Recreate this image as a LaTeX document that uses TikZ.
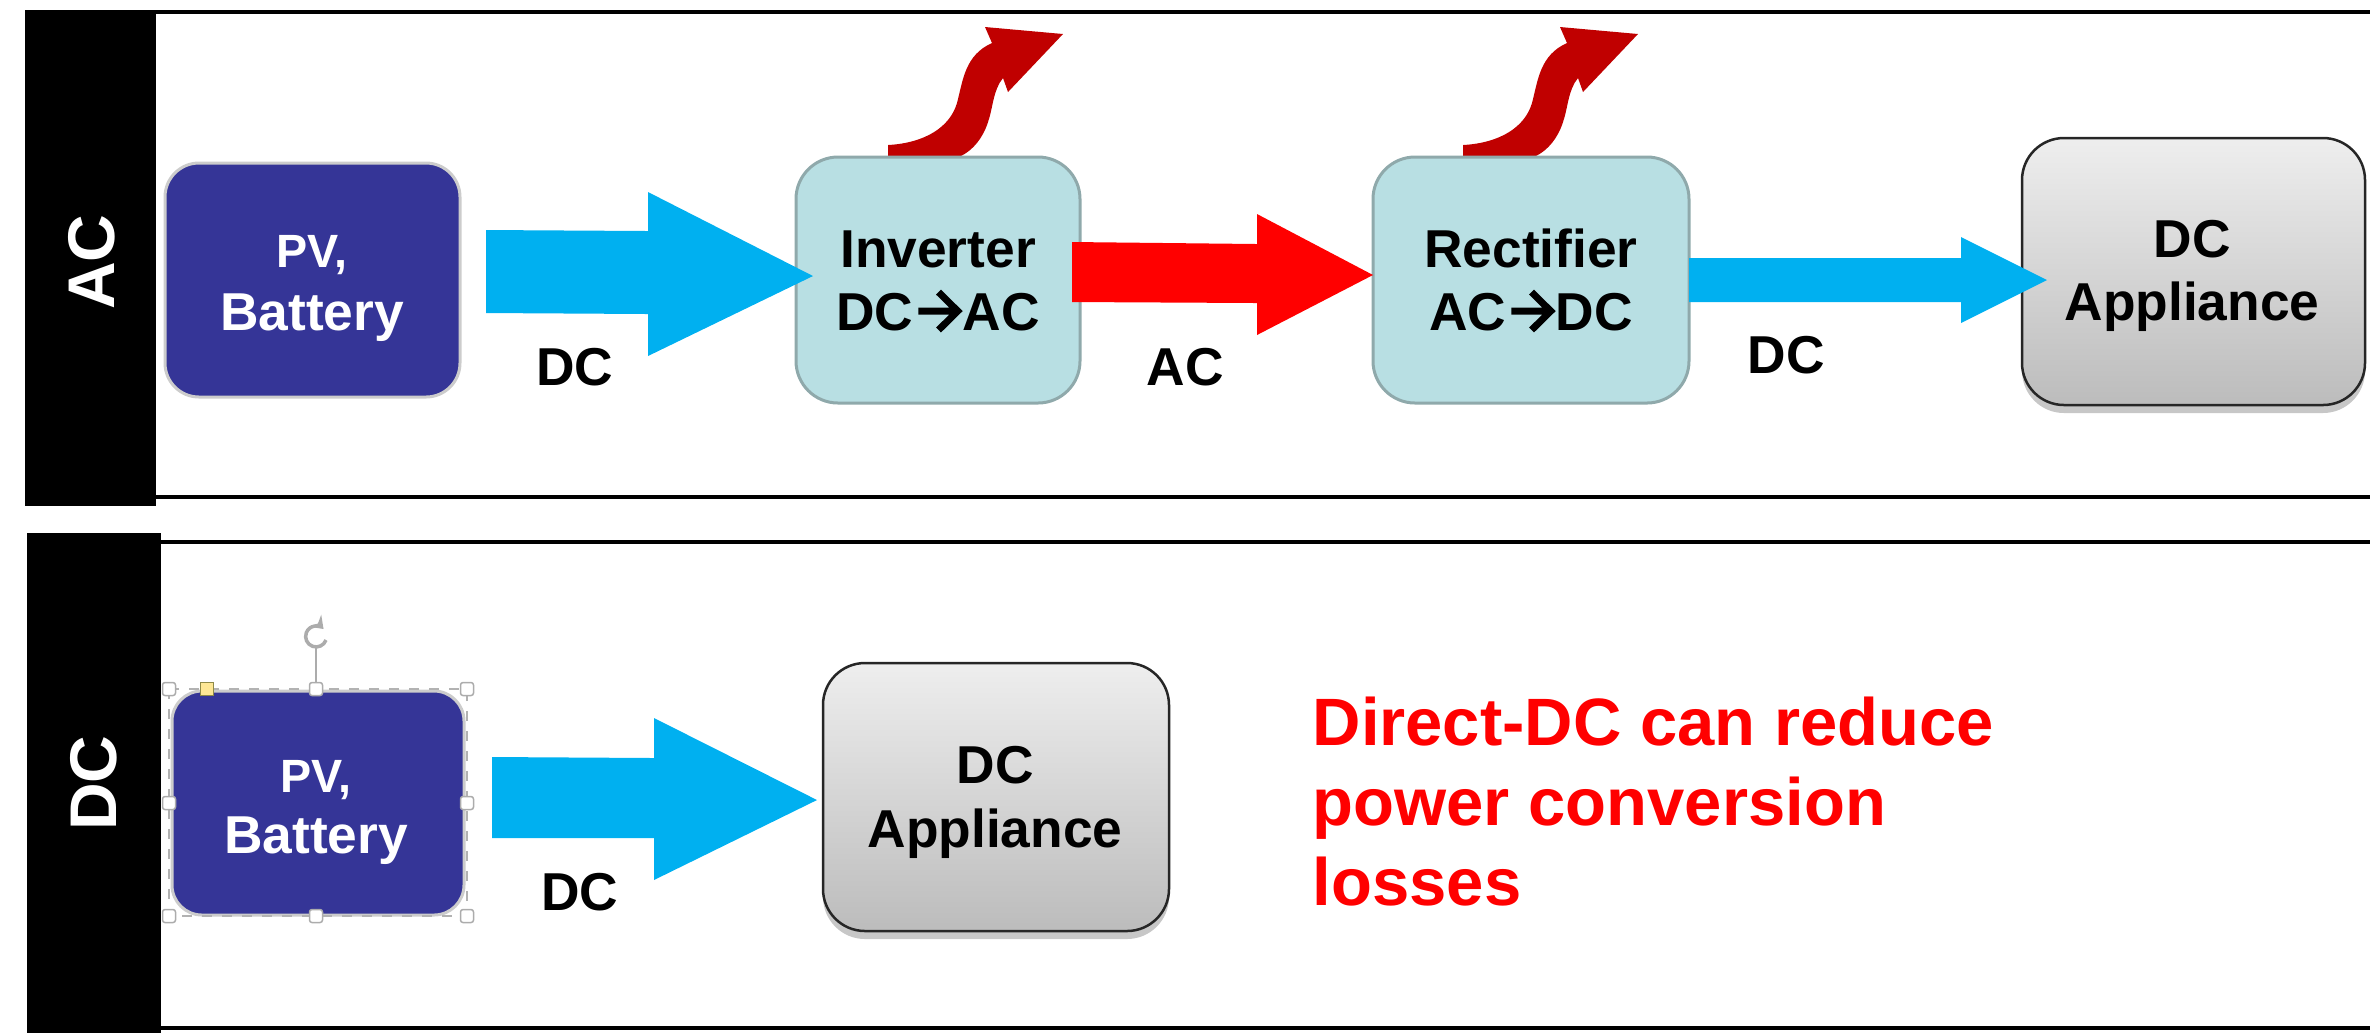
\documentclass[tikz,border=0pt]{standalone}
\usepackage{fontspec}
\setmainfont{Liberation Sans}
\usetikzlibrary{shadows,arrows.meta}
\def\pxu{0.3pt}
\definecolor{pvblue}{HTML}{353597}
\definecolor{convfill}{HTML}{B8DFE3}
\definecolor{convdraw}{HTML}{8FA9AB}
\definecolor{dcblue}{HTML}{00B0F0}
\definecolor{heatred}{HTML}{C00000}
\definecolor{acred}{HTML}{FF0000}
\definecolor{appltop}{HTML}{EEEEEE}
\definecolor{applbot}{HTML}{BCBCBC}
\newcommand\convarrow{\hspace{0.03em}\tikz[baseline=0pt,x=1pt,y=1pt]{\draw[line width=0.13em, line join=miter]
   (0,0.355em) -- (0.74em,0.355em) (0.38em,0.71em) -- (0.74em,0.355em) -- (0.38em,0em);}\hspace{0.03em}}
\begin{document}
\begin{tikzpicture}[x=0.3pt,y=-0.3pt,
  boxbase/.style={rectangle, inner sep=0pt, outer sep=0pt},
  pvbox/.style={boxbase, fill=pvblue, draw=gray!40, line width=3*\pxu, rounded corners=34*\pxu},
  convbox/.style={boxbase, fill=convfill, draw=convdraw, line width=3*\pxu, rounded corners=42*\pxu},
  applbox/.style={boxbase, top color=appltop, bottom color=applbot, draw=black!85, line width=2.5*\pxu, rounded corners=42*\pxu,
     drop shadow={shadow xshift=0pt, shadow yshift=-2.4pt, opacity=0.22, fill=black}},
  txt/.style={inner sep=0pt, anchor=base, font=\bfseries\fontsize{16}{19}\selectfont},
  smalltxt/.style={txt, font=\bfseries\fontsize{14}{17}\selectfont},
  sidetxt/.style={inner sep=0pt, text=white, rotate=90, font=\bfseries\fontsize{19.8}{23}\selectfont},
  redtxt/.style={inner sep=0pt, anchor=base west, text=acred, font=\bfseries\fontsize{20.1}{24}\selectfont},
  panelline/.style={draw=black, line width=4*\pxu},
  sidebar/.style={fill=black},
  handle/.style={draw=gray!65, fill=white, line width=1.5*\pxu, rounded corners=2.5*\pxu, minimum size=13*\pxu, inner sep=0pt, outer sep=0pt},
  heat/.style={fill=heatred}
]
\useasboundingbox (0,0) rectangle (2370,1033);

% ---------------- top panel (AC) ----------------
\fill[sidebar] (25,10) rectangle (156,506);
\draw[panelline] (150,12) -- (2370,12);
\draw[panelline] (156,497) -- (2370,497);
\node[sidetxt] (sideAC) at (92,262) {AC};

% heat loss arrows
\fill[heat] (888,156) -- (888,145) .. controls (925,143) and (950,127) .. (957,103)
   .. controls (963,80) and (965,55) .. (992,43) -- (985,27) -- (1063,34) -- (1008,92) -- (1003,78)
   .. controls (993,90) and (993,108) .. (988,122) .. controls (983,138) and (973,150) .. (961,156) -- cycle;
\begin{scope}[xshift=172.5pt]
\fill[heat] (888,156) -- (888,145) .. controls (925,143) and (950,127) .. (957,103)
   .. controls (963,80) and (965,55) .. (992,43) -- (985,27) -- (1063,34) -- (1008,92) -- (1003,78)
   .. controls (993,90) and (993,108) .. (988,122) .. controls (983,138) and (973,150) .. (961,156) -- cycle;
\end{scope}

% boxes
\node[pvbox, minimum width=295*\pxu, minimum height=234*\pxu] (pv1) at (312.5,280) {};
\node[convbox, minimum width=284*\pxu, minimum height=246*\pxu] (inv) at (938,280) {};
\node[convbox, minimum width=316*\pxu, minimum height=246*\pxu] (rec) at (1531,280) {};
\node[applbox, minimum width=343*\pxu, minimum height=267*\pxu] (app1) at (2193.5,271.5) {};

% box texts
\node[smalltxt, text=white] (pv1a) at (312,267) {PV,};
\node[txt, text=white] (pv1b) at (312,330) {Battery};
\node[txt] (inva) at (938,267) {Inverter};
\node[txt] (invb) at (938,330) {DC\convarrow AC};
\node[txt] (reca) at (1531,267) {Rectifier};
\node[txt] (recb) at (1531,330) {AC\convarrow DC};
\node[txt] (app1a) at (2192,257) {DC};
\node[txt] (app1b) at (2192,320) {Appliance};

% block arrows
\fill[dcblue] (486,230) -- (648,231) -- (648,192) -- (813,276) -- (648,356) -- (648,314) -- (486,313) -- cycle;
\fill[acred] (1072,242) -- (1257,244) -- (1257,214) -- (1373,275) -- (1257,335) -- (1257,303) -- (1072,302) -- cycle;
\fill[dcblue] (1689,258) -- (1961,258) -- (1961,237) -- (2047,280) -- (1961,323) -- (1961,302) -- (1689,302) -- cycle;

\node[txt] (lblDC1) at (575,385) {DC};
\node[txt] (lblAC) at (1185,385) {AC};
\node[txt] (lblDC2) at (1786,373) {DC};

% ---------------- bottom panel (DC) ----------------
\fill[sidebar] (27,533) rectangle (161,1033);
\draw[panelline] (161,542) -- (2370,542);
\draw[panelline] (161,1028) -- (2370,1028);
\node[sidetxt] (sideDC) at (94,783) {DC};

\node[pvbox, rounded corners=30*\pxu, minimum width=292*\pxu, minimum height=224*\pxu] (pv2) at (318,803) {};
\node[applbox, minimum width=346*\pxu, minimum height=268*\pxu] (app2) at (996,797) {};

\node[smalltxt, text=white] (pv2a) at (316,792) {PV,};
\node[txt, text=white] (pv2b) at (316,853) {Battery};
\node[txt] (app2a) at (995,783) {DC};
\node[txt] (app2b) at (995,847) {Appliance};

% selection frame around pv2
\draw[gray!60, line width=1.5*\pxu, dashed] (169,689) rectangle (467,916);
\draw[gray!65, line width=2*\pxu] (316,683) -- (316,648);
\draw[gray!65, line width=3.5*\pxu, -{Stealth[length=3.5pt,width=5pt]}] (326,640) arc[start angle=20, end angle=315, radius=10.5];
\node[handle] (hNW) at (169,689) {};
\node[handle] (hN) at (316,689) {};
\node[handle] (hNE) at (467,689) {};
\node[handle] (hW) at (169,803) {};
\node[handle] (hE) at (467,803) {};
\node[handle] (hSW) at (169,916) {};
\node[handle] (hS) at (316,916) {};
\node[handle] (hSE) at (467,916) {};
\node[handle, fill=yellow!60!orange!40, draw=yellow!50!black, rounded corners=0pt] (hY) at (207,689) {};

\fill[dcblue] (492,757) -- (654,758) -- (654,718) -- (817,800) -- (654,880) -- (654,838) -- (492,838) -- cycle;
\node[txt] (lblDC3) at (580,910) {DC};

\node[redtxt] (msg1) at (1312,745) {Direct-DC can reduce};
\node[redtxt] (msg2) at (1312,825) {power conversion};
\node[redtxt] (msg3) at (1312,905) {losses};
\end{tikzpicture}
\end{document}
